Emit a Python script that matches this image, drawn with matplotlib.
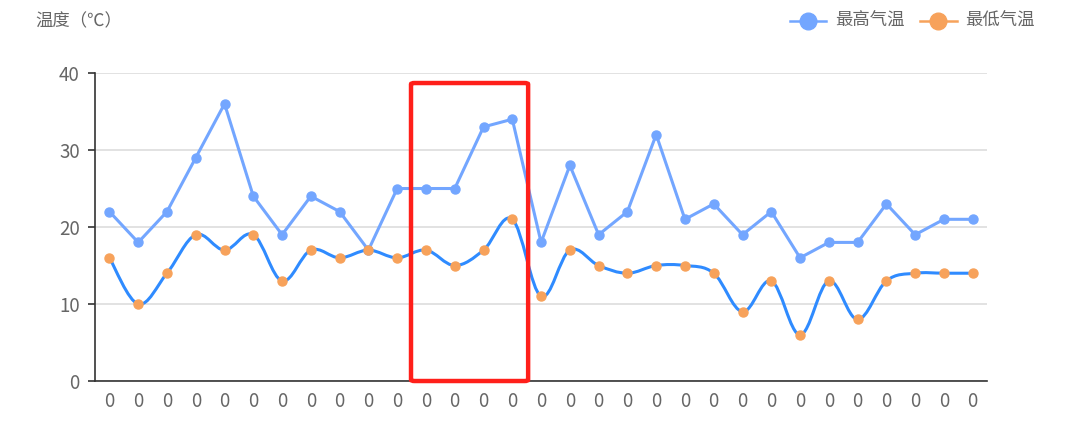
import numpy as np
import matplotlib
matplotlib.use("Agg")
import matplotlib.pyplot as plt
from matplotlib.path import Path
from matplotlib.patches import PathPatch, FancyBboxPatch
from matplotlib.lines import Line2D

plt.rcParams['font.family'] = ['Noto Sans CJK SC', 'DejaVu Sans']

# datos
etiquetas = ["0"] * 31
max_temp = [22, 18, 22, 29, 36, 24, 19, 24, 22, 17, 25, 25, 25, 33, 34, 18,
            28, 19, 22, 32, 21, 23, 19, 22, 16, 18, 18, 23, 19, 21, 21]
min_temp = [16, 10, 14, 19, 17, 19, 13, 17, 16, 17, 16, 17, 15, 17, 21, 11,
            17, 15, 14, 15, 15, 14, 9, 13, 6, 13, 8, 13, 14, 14, 14]
nombres = ["最高气温", "最低气温"]
titulo_y = "温度（℃）"
resaltado = (10.48, 14.55)  # rango x del recuadro rojo

c_max = "#73a6ff"
c_min_linea = "#2f8bff"
c_min_punto = "#f7a25b"
gris = "#666666"


def curva_suave(xs, ys, s=0.35):
    # bezier tipo catmull-rom para dibujar la linea suavizada
    pts = np.column_stack([xs, ys]).astype(float)
    n = len(pts)
    verts = [pts[0]]
    codes = [Path.MOVETO]
    for i in range(n - 1):
        p0 = pts[max(i - 1, 0)]
        p1 = pts[i]
        p2 = pts[i + 1]
        p3 = pts[min(i + 2, n - 1)]
        c1 = p1 + (p2 - p0) * s / 2
        c2 = p2 - (p3 - p1) * s / 2
        verts += [c1, c2, p2]
        codes += [Path.CURVE4] * 3
    return Path(verts, codes)


fig = plt.figure(figsize=(10.8, 4.25), dpi=100)
ax = fig.add_axes([0.088, 0.1035, 0.826, 0.7247])

x = np.arange(len(etiquetas))

ax.plot(x, max_temp, color=c_max, lw=2.2, marker="o", ms=6.5,
        markerfacecolor=c_max, markeredgecolor=c_max, zorder=3)

ax.add_patch(PathPatch(curva_suave(x, min_temp), facecolor="none",
                       edgecolor=c_min_linea, lw=2.2, zorder=3))
ax.plot(x, min_temp, ls="none", marker="o", ms=6.5,
        markerfacecolor=c_min_punto, markeredgecolor=c_min_punto, zorder=4)

ax.set_xlim(-0.5, len(etiquetas) - 0.5)
ax.set_ylim(0, 40)
ax.set_yticks([0, 10, 20, 30, 40])
ax.set_xticks(x)
ax.set_xticklabels(etiquetas)
ax.grid(axis="y", color="#dddddd", lw=1.2)
ax.set_axisbelow(True)

for lado in ["top", "right"]:
    ax.spines[lado].set_visible(False)
ax.spines["left"].set_color("#333333")
ax.spines["bottom"].set_color("#333333")
ax.spines["left"].set_linewidth(1.2)
ax.spines["bottom"].set_linewidth(1.2)
ax.tick_params(axis="y", length=5, width=1.2, color="#333333",
               labelcolor=gris, labelsize=13.5, pad=6)
ax.tick_params(axis="x", length=0, labelcolor=gris, labelsize=13.5, pad=7)

# recuadro rojo
caja = FancyBboxPatch((resaltado[0], 0), resaltado[1] - resaltado[0], 38.7,
                      boxstyle="round,pad=0,rounding_size=0.12",
                      mutation_aspect=1.4,
                      facecolor="none", edgecolor="#ff1f1a", lw=3.2,
                      zorder=5, clip_on=False)
ax.add_patch(caja)

fig.text(35 / 1080, 1 - 21 / 425, titulo_y, color=gris, fontsize=12.5,
         ha="left", va="center")

# leyenda manual
for (x0, x1, xm, xt), nombre, cl, cp in [
        ((790, 826, 808, 835), nombres[0], c_max, c_max),
        ((920, 957, 938, 965), nombres[1], c_min_punto, c_min_punto)]:
    yl = 1 - 21 / 425
    fig.add_artist(Line2D([x0 / 1080, x1 / 1080], [yl, yl], color=cl, lw=1.8))
    fig.add_artist(Line2D([xm / 1080], [yl], marker="o", ms=12,
                          color=cp, ls="none"))
    fig.text(xt / 1080, yl, nombre, color=gris, fontsize=12.5,
             ha="left", va="center")

fig.savefig("out.png", dpi=100)
